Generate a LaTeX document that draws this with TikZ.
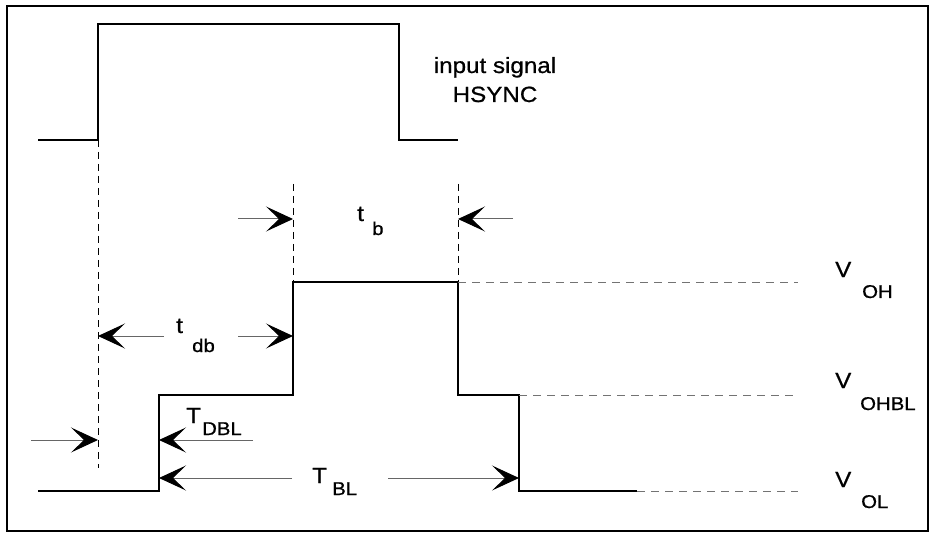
\documentclass[tikz,border=0pt]{standalone}
\usepackage{fontspec}
\setmainfont{Liberation Sans}[FakeStretch=1.1, FakeBold=0.8]
\usepackage{tikz}
\usetikzlibrary{arrows.meta}
\usetikzlibrary{positioning}

\begin{document}
\begin{tikzpicture}[
			x=1pt, y=-1pt,
			wave/.style={line width=1.6pt, line join=miter},
			guide/.style={line width=0.9pt, dash pattern=on 7pt off 5pt},
			level/.style={line width=0.9pt, draw=black!55, dash pattern=on 8pt off 6pt},
			dimarrow/.style={
					line width=1pt,
					draw=black!60,
					-{Stealth[black, length=27pt, width=25pt, inset=13pt]}
				},
			lbl/.style={inner sep=0pt, font=\fontsize{22}{26}\selectfont, anchor=base west},
			sublbl/.style={inner sep=0pt, font=\fontsize{18.5}{22}\selectfont, anchor=base west}
		]
		\useasboundingbox (0,0) rectangle (933,534);
		\draw[line width=2pt] (7,6) rectangle (928,531);

		% input signal
		\coordinate (inlow) at (38,140);
		\coordinate (inrise) at (98,140);
		\coordinate (infall) at (399,140);
		\coordinate (inend) at (458,140);
		\draw[wave] (inlow) -- (inrise) -- (98,24) -- (399,24) -- (infall) -- (inend);
		\node[lbl, anchor=base] (insig) at (495,73) {input signal};
		\node[lbl, anchor=base] (hsync) at (495,102) {HSYNC};

		% output signal
		\coordinate (outlow) at (38,491);
		\coordinate (blrise) at (159,395);
		\coordinate (ohrise) at (293,282);
		\coordinate (ohfall) at (458,282);
		\coordinate (blfall) at (519,395);
		\coordinate (olend) at (637,491);
		\draw[wave] (outlow) -- (159,491) -- (blrise) -- (293,395) -- (ohrise)
		-- (ohfall) -- (458,395) -- (blfall) -- (519,491) -- (olend);

		% levels
		\coordinate (ohright) at (798,282);
		\coordinate (blright) at (798,395);
		\coordinate (olright) at (798,491);
		\draw[level] (ohfall) -- (ohright);
		\draw[level] (blfall) -- (blright);
		\draw[level] (olend) -- (olright);

		\node[lbl] (voh) at (835,277) {V};
		\node[sublbl] (vohsub) at (862,298) {OH};
		\node[lbl] (vbl) at (835,388) {V};
		\node[sublbl] (vblsub) at (860,410) {OHBL};
		\node[lbl] (vol) at (835,487) {V};
		\node[sublbl] (volsub) at (861,508) {OL};

		% guides
		\coordinate (risebot) at (98,468);
		\coordinate (tbleft) at (293,184);
		\coordinate (tbright) at (458,184);
		\draw[guide] (inrise) -- (risebot);
		\draw[guide] (tbleft) -- (ohrise);
		\draw[guide] (tbright) -- (ohfall);

		% t_b
		\coordinate (tba) at (238,219);
		\coordinate (tbb) at (293,219);
		\coordinate (tbc) at (513,219);
		\coordinate (tbd) at (458,219);
		\draw[dimarrow] (tba) -- (tbb);
		\draw[dimarrow] (tbc) -- (tbd);
		\node[lbl] (tb) at (357,221) {t};
		\node[sublbl] (tbsub) at (372,235) {b};

		% t_db
		\coordinate (tdba) at (164,336);
		\coordinate (tdbb) at (98,336);
		\coordinate (tdbc) at (238,336);
		\coordinate (tdbd) at (293,336);
		\draw[dimarrow] (tdba) -- (tdbb);
		\draw[dimarrow] (tdbc) -- (tdbd);
		\node[lbl] (tdb) at (176,333) {t};
		\node[sublbl] (tdbsub) at (192,352) {db};

		% T_DBL
		\coordinate (dbla) at (31,440);
		\coordinate (dblb) at (98,440);
		\coordinate (dblc) at (253,440);
		\coordinate (dbld) at (159,440);
		\draw[dimarrow] (dbla) -- (dblb);
		\draw[dimarrow] (dblc) -- (dbld);
		\node[lbl] (tdbl) at (186,423) {T};
		\node[sublbl] (tdblsub) at (202,435) {DBL};

		% T_BL
		\coordinate (tbla) at (292,478);
		\coordinate (tblb) at (159,478);
		\coordinate (tblc) at (388,478);
		\coordinate (tbld) at (519,478);
		\draw[dimarrow] (tbla) -- (tblb);
		\draw[dimarrow] (tblc) -- (tbld);
		\node[lbl] (tbl) at (312,483) {T};
		\node[sublbl] (tblsub) at (332,495) {BL};

	\end{tikzpicture}
\end{document}
